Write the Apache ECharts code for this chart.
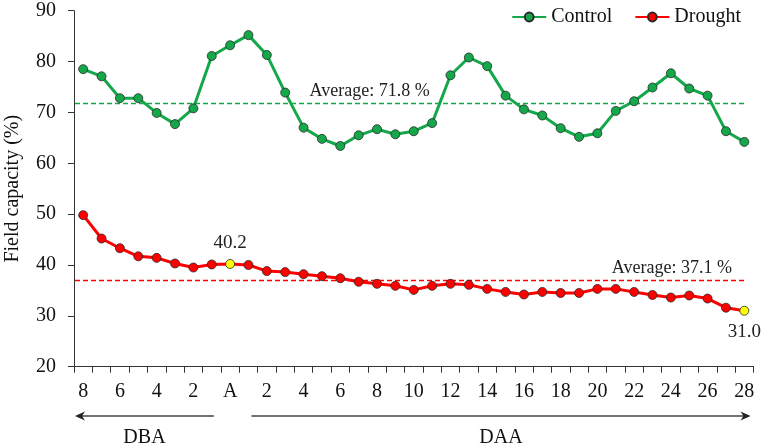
<!DOCTYPE html>
<html>
<head>
<meta charset="utf-8">
<script src="https://cdn.jsdelivr.net/npm/echarts@6/dist/echarts.min.js"></script>
<style>html,body{margin:0;padding:0;background:#fff}#c{width:762px;height:448px}</style>
</head>
<body>
<div id="c"></div>
<script>
const categories = ['8','7','6','5','4','3','2','1','A','1','2','3','4','5','6','7','8','9','10','11','12','13','14','15','16','17','18','19','20','21','22','23','24','25','26','27','28'];
const controlValues = [78.5,77.1,72.8,72.8,69.9,67.7,70.8,81.1,83.2,85.2,81.3,73.9,67.0,64.8,63.4,65.5,66.7,65.7,66.3,67.9,77.3,80.8,79.1,73.3,70.6,69.4,66.9,65.2,65.9,70.3,72.2,74.9,77.7,74.7,73.3,66.3,64.2];
const droughtValues = [49.8,45.2,43.3,41.7,41.4,40.3,39.5,40.1,40.2,40.0,38.8,38.6,38.2,37.8,37.4,36.7,36.3,35.9,35.1,35.9,36.3,36.1,35.3,34.7,34.2,34.7,34.5,34.5,35.3,35.3,34.7,34.1,33.6,34.0,33.4,31.6,31.0];
const controlAverage = 71.8;
const droughtAverage = 37.1;
const highlightedDrought = [8, 36];
const yTicks = {min: 20, max: 90, interval: 10};
const yTitle = 'Field capacity (%)';
const periodLabels = ['DBA', 'DAA'];

const FONT = '"Liberation Serif", "Times New Roman", serif';
const GREEN = '#14a84a';
const RED = '#ff0000';

const droughtData = droughtValues.map((v, i) => {
  if (highlightedDrought.indexOf(i) < 0) return v;
  const first = i === highlightedDrought[0];
  return {
    value: v,
    itemStyle: {color: '#ffff00'},
    label: {
      show: true,
      position: first ? 'top' : 'bottom',
      distance: 7,
      formatter: () => v.toFixed(1),
      fontFamily: FONT, fontSize: 19, color: '#222'
    }
  };
});

const chart = echarts.init(document.getElementById('c'), null, {renderer: 'canvas'});
const option = {
  animation: false,
  backgroundColor: '#fff',
  textStyle: {fontFamily: FONT},
  grid: {left: 74, right: 8.5, top: 10.7, bottom: 81.3, containLabel: false, outerBoundsMode: 'none'},
  legend: {
    top: 2, right: 16,
    itemWidth: 34, itemHeight: 11, itemGap: 22,
    textStyle: {fontFamily: FONT, fontSize: 20, color: '#111'},
    data: ['Control', 'Drought']
  },
  xAxis: {
    type: 'category',
    data: categories,
    boundaryGap: true,
    axisLine: {lineStyle: {color: '#333', width: 1}},
    axisTick: {show: true, interval: 0, length: 6, lineStyle: {color: '#333'}},
    axisLabel: {interval: 1, margin: 15, fontFamily: FONT, fontSize: 20, color: '#111'},
    splitLine: {show: false}
  },
  yAxis: {
    type: 'value',
    min: yTicks.min, max: yTicks.max, interval: yTicks.interval,
    name: yTitle,
    nameLocation: 'middle',
    nameGap: 51,
    nameTextStyle: {fontFamily: FONT, fontSize: 20, color: '#111'},
    axisLine: {show: true, lineStyle: {color: '#333', width: 1}},
    axisTick: {show: true, length: 6, lineStyle: {color: '#333'}},
    axisLabel: {margin: 18, fontFamily: FONT, fontSize: 20, color: '#111'},
    splitLine: {show: false}
  },
  series: [
    {
      name: 'Control', type: 'line', data: controlValues,
      symbol: 'circle', symbolSize: 9,
      itemStyle: {color: GREEN, borderColor: '#2a2a2a', borderWidth: 0.8},
      lineStyle: {color: GREEN, width: 3},
      z: 3
    },
    {
      name: 'Drought', type: 'line', data: droughtData,
      symbol: 'circle', symbolSize: 9,
      itemStyle: {color: RED, borderColor: '#2a2a2a', borderWidth: 0.8},
      lineStyle: {color: RED, width: 3},
      z: 3
    }
  ]
};
chart.setOption(option);

// Positions derived from the chart's own scales
const px = i => chart.convertToPixel({xAxisIndex: 0}, i);
const py = v => chart.convertToPixel({yAxisIndex: 0}, v);
const step = px(1) - px(0);
const axisLeft = px(0) - step / 2;
const lastX = px(categories.length - 1);

function averageGraphics(value, color, textX) {
  const y = Math.round(py(value)) + 0.5;
  return [
    {type: 'line', z: 2, shape: {x1: axisLeft + 1, y1: y, x2: lastX, y2: y},
     style: {stroke: color, lineWidth: 1.4, lineDash: [5, 3]}},
    {type: 'text', z: 5, x: textX, y: y - 3,
     style: {text: 'Average: ' + value.toFixed(1) + ' %', font: '18px ' + FONT, fill: '#222',
             textAlign: 'left', textVerticalAlign: 'bottom'}}
  ];
}

const yArrow = 416, yText = 438;
const leftStart = axisLeft + 1;
const leftEnd = px(8) - step / 2 - 7;
const rightStart = px(9) + 3;
const rightEnd = lastX + step / 2 - 3;
const arrowStyle = {stroke: '#444', lineWidth: 1.3};
chart.setOption({
  graphic: [].concat(
    averageGraphics(controlAverage, GREEN, px(12) + 6),
    averageGraphics(droughtAverage, RED, px(29) - 4),
    [
      {type: 'line', shape: {x1: leftStart + 6, y1: yArrow, x2: leftEnd, y2: yArrow}, style: arrowStyle},
      {type: 'polygon', shape: {points: [[leftStart, yArrow], [leftStart + 10, yArrow - 4.5], [leftStart + 7, yArrow], [leftStart + 10, yArrow + 4.5]]}, style: {fill: '#222'}},
      {type: 'line', shape: {x1: rightStart, y1: yArrow, x2: rightEnd - 6, y2: yArrow}, style: arrowStyle},
      {type: 'polygon', shape: {points: [[rightEnd, yArrow], [rightEnd - 10, yArrow - 4.5], [rightEnd - 7, yArrow], [rightEnd - 10, yArrow + 4.5]]}, style: {fill: '#222'}},
      {type: 'text', x: (leftStart + leftEnd) / 2, y: yText, style: {text: periodLabels[0], font: '20px ' + FONT, fill: '#111', textAlign: 'center', textVerticalAlign: 'middle'}},
      {type: 'text', x: (rightStart + rightEnd) / 2, y: yText, style: {text: periodLabels[1], font: '20px ' + FONT, fill: '#111', textAlign: 'center', textVerticalAlign: 'middle'}}
    ]
  )
});
</script>
</body>
</html>
